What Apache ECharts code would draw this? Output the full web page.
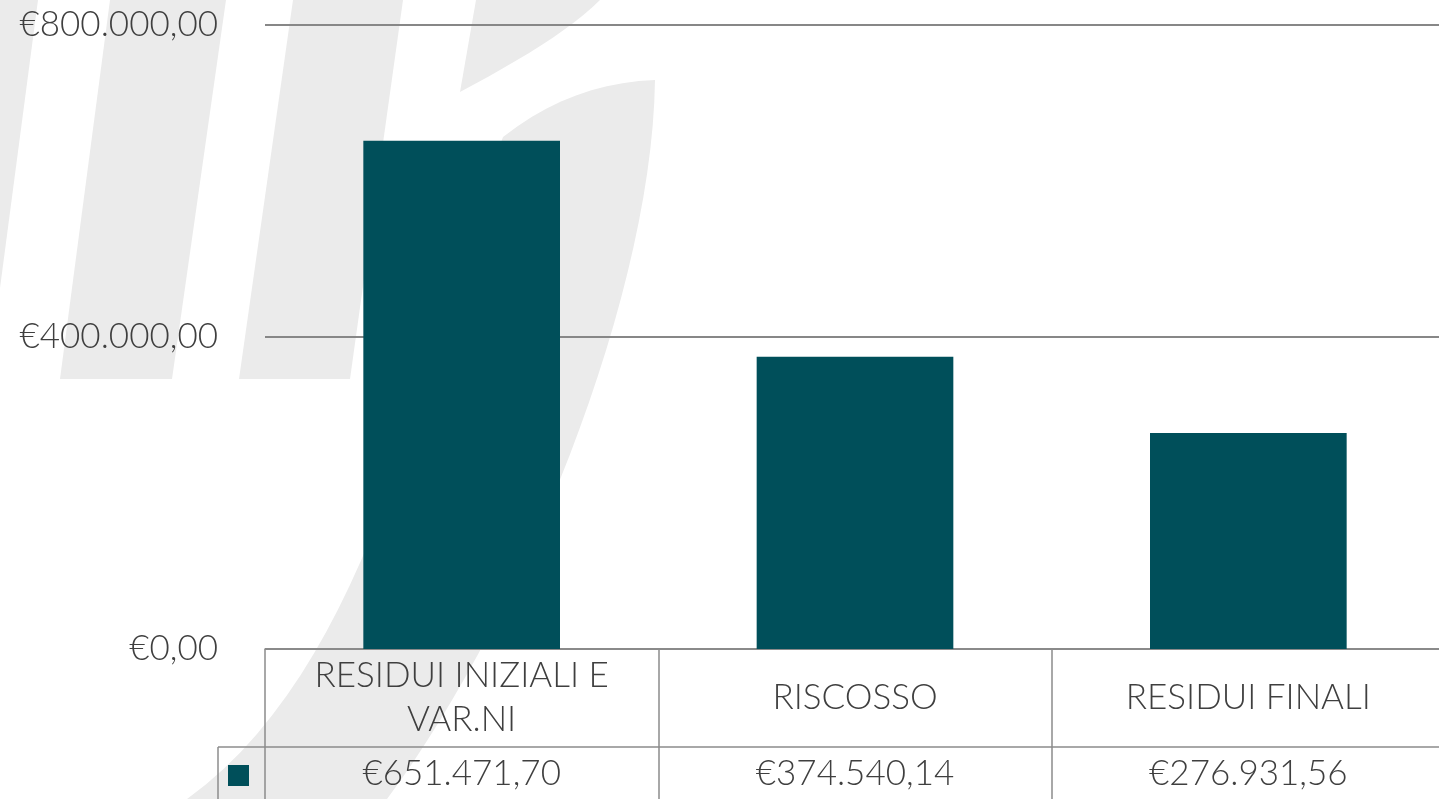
<!DOCTYPE html>
<html>
<head>
<meta charset="utf-8">
<script src="https://cdn.jsdelivr.net/npm/echarts@6/dist/echarts.min.js"></script>
<style>
html,body{margin:0;padding:0;background:#fff;}
#main{width:1439px;height:799px;}
</style>
</head>
<body>
<div id="main"></div>
<script>
var categories=['RESIDUI INIZIALI E\nVAR.NI','RISCOSSO','RESIDUI FINALI']
var values=[651471.70,374540.14,276931.56]
var yTicks=[0,400000,800000]
var seriesName='Importo'

var textColor='#3f3f3f'
var lineColor='#8c8c8c'
var barColor='#004f5a'
var fontName='Lato, "Open Sans", sans-serif'
var fontW=300
var fontS=35
var gridLeft=265, gridBottom=150, gridTop=25, gridRight=-6
var H=799

function formatEuro(v){
	var parts=v.toFixed(2).split('.')
	var intPart=parts[0].replace(/\B(?=(\d{3})+(?!\d))/g,'.')
	return '€'+intPart+','+parts[1]
}

// sample a cubic curve into points (for the background watermark)
function cubic(p0,c1,c2,p3,n){
	var out=[]
	for(var i=0;i<=n;i++){
		var t=i/n,u=1-t
		out.push([u*u*u*p0[0]+3*u*u*t*c1[0]+3*u*t*t*c2[0]+t*t*t*p3[0],
		          u*u*u*p0[1]+3*u*u*t*c1[1]+3*u*t*t*c2[1]+t*t*t*p3[1]])
	}
	return out
}

var wm='#ebebeb'
var stem=[[476,0],[600,0]].concat(cubic([600,0],[570,30],[520,60],[460,92],12))
var crescent=cubic([655,80],[652,300],[520,620],[387,799],30)
	.concat([[355,840],[150,840]])
	.concat(cubic([187,799],[380,660],[430,330],[503,137],30))
	.concat(cubic([503,137],[550,100],[600,82],[655,80],10))
var watermark=[
	[[-100,0],[38,0],[-12,379],[-100,379]],
	[[110,0],[226,0],[172,379],[60,379]],
	[[293,0],[403,0],[350,379],[239,379]],
	stem,
	crescent
]
var graphics=watermark.map(function(pts){
	return {type:'polygon',shape:{points:pts},style:{fill:wm},z:-10,silent:true}
})
var tableTop=H-gridBottom
var rowY=tableTop+98
graphics.push({type:'line',shape:{x1:218,y1:rowY,x2:gridLeft,y2:rowY},style:{stroke:lineColor,lineWidth:1.5},z:5})
graphics.push({type:'line',shape:{x1:218,y1:rowY,x2:218,y2:H},style:{stroke:lineColor,lineWidth:1.5},z:5})

var chartDom=document.getElementById('main')
var myChart=echarts.init(chartDom)
var option={
	animation:false,
	grid:{left:gridLeft,right:gridRight,top:gridTop,bottom:gridBottom,containLabel:false,outerBoundsMode:'none'},
	legend:{
		data:[seriesName],left:228,top:765,padding:0,itemGap:0,
		itemWidth:21,itemHeight:21,icon:'rect',
		formatter:function(){return ''},
		selectedMode:false
	},
	xAxis:[{
		type:'category',
		data:categories,
		axisLine:{show:true,lineStyle:{color:lineColor,width:1.5}},
		axisTick:{show:true,length:gridBottom,lineStyle:{color:lineColor,width:1.5}},
		axisLabel:{
			color:textColor,fontSize:fontS,fontFamily:fontName,fontWeight:fontW,
			margin:49,verticalAlign:'middle',lineHeight:44,align:'center'
		}
	},{
		type:'category',
		data:categories,
		position:'bottom',
		offset:98,
		axisLine:{show:true,lineStyle:{color:lineColor,width:1.5}},
		axisTick:{show:false},
		axisLabel:{
			color:textColor,fontSize:fontS,fontFamily:fontName,fontWeight:fontW,
			margin:27,verticalAlign:'middle',
			formatter:function(v,i){return formatEuro(values[i])}
		}
	}],
	yAxis:{
		type:'value',
		min:yTicks[0],
		max:yTicks[yTicks.length-1],
		interval:yTicks[1]-yTicks[0],
		axisLine:{show:false},
		axisTick:{show:false},
		splitLine:{show:true,lineStyle:{color:'#878787',width:2}},
		axisLabel:{
			color:textColor,fontSize:fontS,fontFamily:fontName,fontWeight:fontW,margin:47,
			formatter:function(v){return formatEuro(v)}
		}
	},
	graphic:graphics,
	series:[{
		name:seriesName,
		type:'bar',
		data:values,
		barWidth:'50%',
		itemStyle:{color:barColor}
	}]
}
myChart.setOption(option)
</script>
</body>
</html>
